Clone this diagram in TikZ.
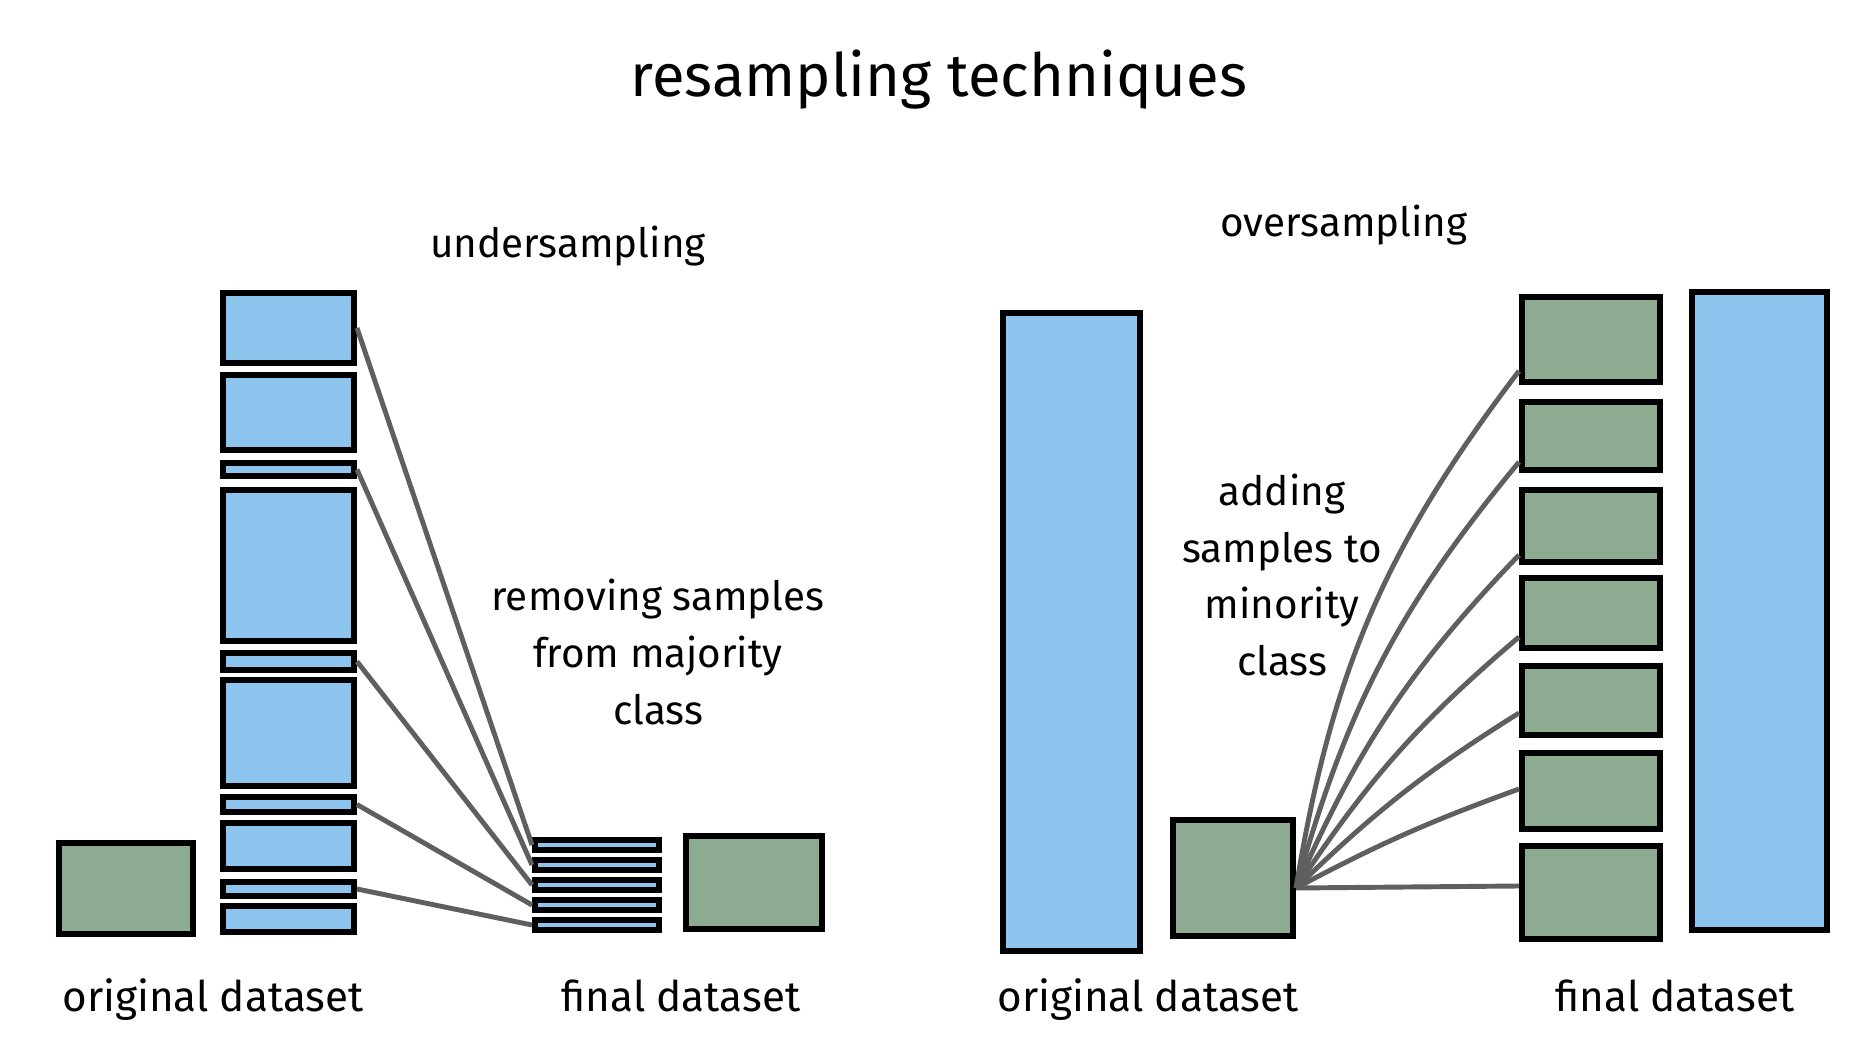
\documentclass[tikz,border=0pt]{standalone}
\usepackage{fontspec}
\setmainfont{Fira Sans}
\definecolor{barblue}{RGB}{142,197,238}
\definecolor{bargreen}{RGB}{140,171,145}
\definecolor{wiregray}{RGB}{95,95,95}
\tikzset{
  blk/.style={draw=black, line width=1.8pt, inner sep=0pt, anchor=south west},
  major/.style={blk, fill=barblue},
  minor/.style={blk, fill=bargreen},
  wire/.style={draw=wiregray, line width=1.4pt},
  lbl/.style={font=\fontsize{11.5}{16.2}\selectfont, align=center},
  dslbl/.style={font=\fontsize{12}{14}\selectfont, anchor=base}
}
\begin{document}
\begin{tikzpicture}
    \useasboundingbox (0,0) rectangle (18.56,10.39);
    % Title
    \node[font=\fontsize{17}{20}\selectfont, anchor=base] (title) at (9.39,9.42) {resampling techniques};
    % Undersampling: original dataset
    \node[minor, minimum width=1.40cm-1.8pt, minimum height=0.97cm-1.8pt] (uorig) at (0.56,1.02) {};
    \foreach \n/\y/\h in {1/6.73/0.76, 2/5.86/0.81, 3/5.60/0.19, 4/3.95/1.57, 5/3.66/0.23,
                          6/2.50/1.12, 7/2.24/0.21, 8/1.67/0.52, 9/1.40/0.20, 10/1.04/0.32}
        \node[major, minimum width=1.37cm-1.8pt, minimum height=\h cm-1.8pt] (u\n) at (2.20,\y) {};
    % Undersampling: final dataset
    \foreach \n/\y in {1/1.86, 2/1.66, 3/1.46, 4/1.26, 5/1.06}
        \node[major, minimum width=1.30cm-1.8pt, minimum height=0.16cm-1.8pt] (f\n) at (5.32,\y) {};
    \node[minor, minimum width=1.42cm-1.8pt, minimum height=0.99cm-1.8pt] (ufin) at (6.83,1.07) {};
    \foreach \a/\b in {1/1, 3/2, 5/3, 7/4, 9/5}
        \draw[wire] (u\a.east) -- (f\b.west);
    \node[lbl, anchor=base] (under) at (5.68,7.81) {undersampling};
    \node[lbl] (remove) at (6.58,3.87) {removing samples\\from majority\\class};
    \node[dslbl] (uorigtxt) at (2.13,0.27) {original dataset};
    \node[dslbl] (ufintxt) at (6.81,0.27) {final dataset};
    % Oversampling: original dataset
    \node[major, minimum width=1.43cm-1.8pt, minimum height=6.44cm-1.8pt] (oorig) at (10.00,0.85) {};
    \node[minor, minimum width=1.26cm-1.8pt, minimum height=1.22cm-1.8pt] (omin) at (11.70,1.00) {};
    % Oversampling: final dataset
    \foreach \n/\y/\h in {1/6.54/0.91, 2/5.66/0.74, 3/4.74/0.78, 4/3.88/0.76,
                          5/3.01/0.75, 6/2.07/0.82, 7/0.97/0.99}
        \node[minor, minimum width=1.44cm-1.8pt, minimum height=\h cm-1.8pt] (g\n) at (15.19,\y) {};
    \node[major, minimum width=1.41cm-1.8pt, minimum height=6.44cm-1.8pt] (ofin) at (16.89,1.06) {};
    \coordinate (fan) at ([yshift=-1mm]omin.east);
    \foreach \n/\s/\b in {1/1.4/14, 2/1.1/12, 3/1.0/10, 4/1.4/8, 5/2.5/6, 6/4.3/4, 7/5.6/0}
        \draw[wire] (fan) to[bend left=\b] ([yshift=\s mm]g\n.south west);
    \node[lbl, anchor=base] (over) at (13.44,8.02) {oversampling};
    \node[lbl] (adding) at (12.82,4.64) {adding\\samples to\\minority\\class};
    \node[dslbl] (oorigtxt) at (11.48,0.27) {original dataset};
    \node[dslbl] (ofintxt) at (16.75,0.27) {final dataset};
\end{tikzpicture}
\end{document}
